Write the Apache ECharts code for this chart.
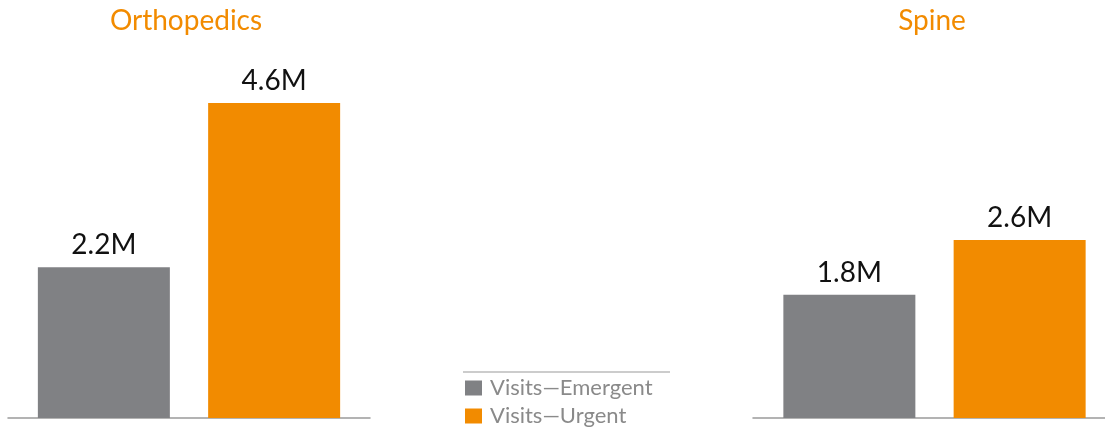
<!DOCTYPE html>
<html>
<head>
<meta charset="utf-8">
<script src="https://cdn.jsdelivr.net/npm/echarts@6/dist/echarts.min.js"></script>
<style>
html,body{margin:0;padding:0;background:#fff;}
#c{width:1105px;height:432px;}
</style>
</head>
<body>
<div id="c"></div>
<script>
const categories = ['Orthopedics', 'Spine'];
const seriesNames = ['Visits\u2014Emergent', 'Visits\u2014Urgent'];
const emergent = [2.2, 1.8];
const urgent = [4.6, 2.6];

const GRAY = '#808184';
const ORANGE = '#F28B00';
const FONT = 'Lato';

const chart = echarts.init(document.getElementById('c'), null, {renderer: 'canvas'});

const grids = [
  {left: 8, right: 735, top: 75.5, height: 342.5, outerBoundsMode: 'none', containLabel: false},
  {left: 753, right: -11, top: 75.5, height: 342.5, outerBoundsMode: 'none', containLabel: false}
];
const titleCenters = [186, 932];

const label = {
  show: true, position: 'top', distance: 8,
  color: '#111', fontFamily: FONT, fontSize: 28,
  formatter: p => p.value.toFixed(1) + 'M'
};

const series = [];
categories.forEach((cat, i) => {
  series.push({
    name: seriesNames[0], type: 'bar', xAxisIndex: i, yAxisIndex: i,
    data: [emergent[i]], barWidth: 132, barGap: '29%',
    itemStyle: {color: GRAY}, label: label, emphasis: {disabled: true}
  });
  series.push({
    name: seriesNames[1], type: 'bar', xAxisIndex: i, yAxisIndex: i,
    data: [urgent[i]], barWidth: 132, barGap: '29%',
    itemStyle: {color: ORANGE}, label: label, emphasis: {disabled: true}
  });
});

chart.setOption({
  animation: false,
  textStyle: {fontFamily: FONT},
  title: categories.map((c, i) => ({
    text: c, left: titleCenters[i], top: 7, textAlign: 'center', padding: 0,
    textStyle: {color: ORANGE, fontFamily: FONT, fontSize: 28, fontWeight: 'normal'}
  })),
  grid: grids,
  xAxis: categories.map((c, i) => ({
    type: 'category', gridIndex: i, data: [c],
    axisLine: {show: true, lineStyle: {color: '#9a9a9a', width: 1.5}},
    axisTick: {show: false}, axisLabel: {show: false}
  })),
  yAxis: categories.map((c, i) => ({
    type: 'value', gridIndex: i, min: 0, max: 5,
    show: false, splitLine: {show: false}
  })),
  legend: {
    data: seriesNames, orient: 'vertical', left: 465, top: 377, padding: 0,
    itemWidth: 17, itemHeight: 15, itemGap: 6, icon: 'rect',
    selectedMode: false,
    textStyle: {color: '#8a8a8a', fontFamily: FONT, fontSize: 22, padding: [0,0,0,3]}
  },
  graphic: [{
    type: 'line', shape: {x1: 463, y1: 372, x2: 670, y2: 372},
    style: {stroke: '#9a9a9a', lineWidth: 1.2}
  }],
  series: series
});
</script>
</body>
</html>
